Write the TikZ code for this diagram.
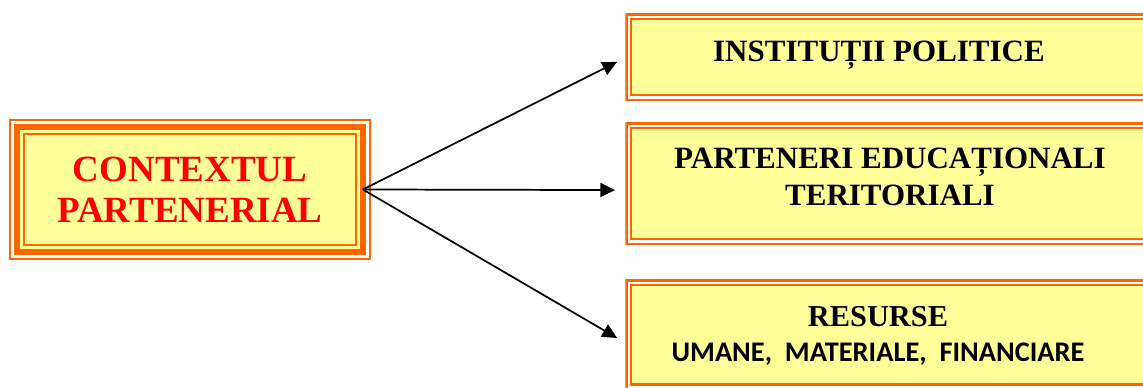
\documentclass[tikz,border=0pt]{standalone}
\usepackage{fontspec}
\setmainfont{Liberation Serif}
\newfontfamily\calibrifont{Carlito}
\usetikzlibrary{arrows.meta}
\definecolor{orng}{HTML}{FF6600}
\definecolor{ylw}{HTML}{FFFF99}
\definecolor{rd}{HTML}{FF0000}
\newcommand\insetrect[2]{\fill[#1] ([shift={(#2,-#2)}]path picture bounding box.north west) rectangle ([shift={(-#2,#2)}]path picture bounding box.south east);}
\tikzset{
  boxbase/.style={inner sep=0pt, outer sep=0pt},
  tripleframe/.style={boxbase, path picture={
      \insetrect{orng}{0pt}\insetrect{white}{1.7pt}\insetrect{orng}{3.75pt}
      \insetrect{ylw}{8.25pt}\insetrect{orng}{10.3pt}\insetrect{ylw}{12.2pt}}},
  doubleframe/.style={boxbase, minimum width=408.5pt, path picture={
      \insetrect{orng}{0pt}\insetrect{white}{1.75pt}\insetrect{orng}{3.5pt}
      \insetrect{ylw}{5.25pt}}},
  titlefont/.style={font=\fontsize{23.25pt}{27.75pt}\selectfont\bfseries},
  arrowline/.style={line width=1.3pt, -{Triangle[length=11pt,width=10.5pt]}}
}
\begin{document}
\begin{tikzpicture}[x=0.75pt,y=-0.75pt]
\useasboundingbox (0,0) rectangle (1143,388);
\clip (0,0) rectangle (1143,388);
% left box
\node[tripleframe, minimum width=271.3pt, minimum height=105.75pt,
      align=center, text=rd, font=\fontsize{27.75pt}{30.75pt}\selectfont\bfseries]
      (L) at (190,189.5) {CONTEXTUL\\PARTENERIAL};
% right boxes
\node[doubleframe, minimum height=65.8pt] (T) at (897.65,57.15) {};
\node[doubleframe, minimum height=92pt] (M) at (897.65,183.65) {};
\node[doubleframe, minimum height=83.4pt] (B) at (897.65,334.9) {};
% texts
\node[titlefont, anchor=base, inner sep=0pt] (tT) at (879,62) {INSTITUȚII POLITICE};
\node[titlefont, align=center, inner sep=0pt] (tM) at (890,177.3) {PARTENERI EDUCAȚIONALI\\TERITORIALI};
\node[anchor=base, inner sep=0pt, font=\fontsize{22.8pt}{26pt}\selectfont\bfseries] (tB1) at (878,327) {RESURSE};
\node[anchor=base, inner sep=0pt, font=\calibrifont\fontsize{21.3pt}{25pt}\selectfont\bfseries] (tB2) at (878,362) {UMANE,\ \ MATERIALE,\ \ FINANCIARE};
% arrows
\coordinate (src) at ([xshift=-6pt]L.east);
\draw[arrowline] (src) -- ([xshift=-6.2pt,yshift=-3.6pt]T.west);
\draw[arrowline] (src) -- ([xshift=-7.7pt,yshift=-4.8pt]M.west);
\draw[arrowline] (src) -- ([xshift=-6.2pt,yshift=-2.3pt]B.west);
\end{tikzpicture}
\end{document}
